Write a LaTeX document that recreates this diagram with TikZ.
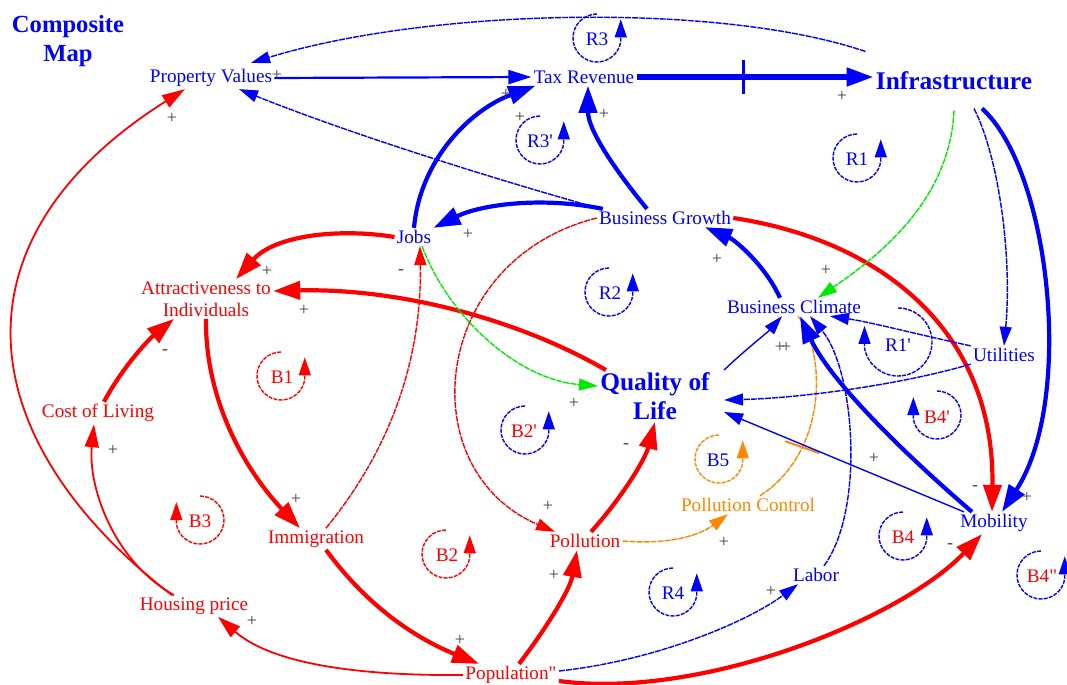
\documentclass[tikz,border=0pt]{standalone}
\usepackage{fontspec}
\setmainfont{Liberation Serif}
\usetikzlibrary{arrows.meta}

\definecolor{signgray}{RGB}{64,64,64}
\definecolor{ctrlorange}{RGB}{255,136,0}
\definecolor{linkgreen}{RGB}{0,235,0}

\begin{document}
\begin{tikzpicture}[
        x = 0.5pt, y = -0.5pt,
        var/.style = {inner sep = 1pt, align = center, font = \fontsize{9.6}{11}\selectfont},
        keyvar/.style = {inner sep = 1pt, align = center, font = \fontsize{12.7}{14.5}\selectfont\bfseries},
        sign/.style = {inner sep = 0pt, text = signgray, font = \fontsize{9}{9}\selectfont},
        loopname/.style = {inner sep = 0pt, font = \fontsize{9.6}{11}\selectfont},
        loopmark/.style = {line width = 0.7pt, dash pattern = on 2pt off 0.6pt, -{Triangle[length = 9pt, width = 6pt]}},
        thinlink/.style = {line width = 0.7pt, dash pattern = on 3pt off 0.5pt, -{Triangle[length = 9.5pt, width = 6pt]}},
        plainlink/.style = {line width = 0.7pt, -{Triangle[length = 9.5pt, width = 6pt]}},
        midlink/.style = {line width = 1.1pt, -{Triangle[length = 11.5pt, width = 7pt]}},
        thicklink/.style = {line width = 2.1pt, -{Triangle[length = 13.5pt, width = 9pt]}}
    ]

        % Fix the size of the picture.
        \useasboundingbox (0, 0) rectangle (1067, 685);

        % Title of the map.
        \node[keyvar, text = blue, font = \fontsize{12.3}{14.5}\selectfont\bfseries] (title) at (68, 41) {Composite\\Map};

        % Variables on the blue side.
        \node[var, text = blue] (propval) at (211, 78) {Property Values};
        \node[var, text = blue] (taxrev) at (584, 77) {Tax Revenue};
        \node[keyvar, text = blue] (infra) at (954, 81) {Infrastructure};
        \node[var, text = blue] (bgrowth) at (665, 218) {Business Growth};
        \node[var, text = blue] (jobs) at (414, 237) {Jobs};
        \node[var, text = blue] (bclimate) at (794, 307) {Business Climate};
        \node[var, text = blue] (utilities) at (1004, 355) {Utilities};
        \node[keyvar, text = blue] (qol) at (655, 396) {Quality of\\Life};
        \node[var, text = blue] (mobility) at (994, 523) {Mobility};
        \node[var, text = blue] (labor) at (816, 575) {Labor};

        % Variables on the red side.
        \node[var, text = red] (attract) at (206, 299) {Attractiveness to\\Individuals};
        \node[var, text = red] (cost) at (98, 413) {Cost of Living};
        \node[var, text = red] (immig) at (316, 539) {Immigration};
        \node[var, text = red] (pollution) at (585, 541) {Pollution};
        \node[var, text = red] (housing) at (194, 606) {Housing price};
        \node[var, text = red] (population) at (511, 675) {Population\textquotedbl};
        \node[var, text = ctrlorange] (pcontrol) at (748, 505) {Pollution Control};

        % Links around tax revenue.
        \draw[thinlink, blue] ([xshift = -4pt, yshift = 9pt]infra.north west) .. controls (720, 2) and (430, 8) .. ([xshift = 20pt, yshift = 2pt]propval.north);
        \draw[midlink, blue] (propval.east) to (taxrev.west);
        \draw[thicklink, blue, line width = 2.6pt] (taxrev.east) to coordinate[pos = 0.45] (taxdelay) (taxrev.east -| infra.west);
        \draw[blue, line width = 1.6pt] ([yshift = 8.5pt]taxdelay) to ([yshift = -8.5pt]taxdelay);
        \draw[thinlink, blue] ([xshift = 2pt]bgrowth.north west) .. controls (480, 175) and (340, 130) .. ([xshift = 14pt]propval.south);
        \draw[thicklink, blue] ([xshift = 3pt]bgrowth.north west) .. controls (540, 196) and (480, 205) .. (jobs.north east);
        \draw[thicklink, blue] ([xshift = -9pt]bgrowth.north) .. controls (615, 170) and (588, 130) .. ([xshift = 2pt]taxrev.south);
        \draw[thicklink, blue] (jobs.north) .. controls (420, 160) and (470, 110) .. ([xshift = 2pt]taxrev.south west);

        % Links of the red side.
        \draw[thicklink, red] (jobs.west) .. controls (340, 228) and (275, 235) .. ([xshift = 15pt]attract.north);
        \draw[thicklink, red] ([xshift = 4pt]qol.north west) .. controls (520, 320) and (400, 288) .. ([yshift = 4pt]attract.east);
        \draw[thicklink, red] (attract.south) .. controls (205, 400) and (245, 470) .. ([xshift = -8pt]immig.north);
        \draw[thicklink, red] ([xshift = 3pt]cost.north) .. controls (122, 368) and (148, 340) .. ([xshift = -16pt]attract.south);
        \draw[midlink, red, line width = 0.9pt] ([xshift = -10pt]housing.north) .. controls (112, 560) and (88, 485) .. ([xshift = -2pt]cost.south);
        \draw[midlink, red, line width = 0.9pt] ([xshift = -11pt]housing.north) .. controls (-30, 440) and (-54, 240) .. ([xshift = -13pt]propval.south);
        \draw[thinlink, red] ([xshift = 5pt]immig.north) .. controls (390, 450) and (422, 360) .. ([xshift = 3pt]jobs.south);
        \draw[thicklink, red] ([xshift = 5pt]immig.south) .. controls (370, 610) and (420, 640) .. ([xshift = -16pt]population.north);
        \draw[midlink, red, line width = 0.9pt] (population.west) .. controls (350, 676) and (270, 662) .. ([xshift = 12pt]housing.south);
        \draw[thicklink, red] ([xshift = 4pt]population.north) .. controls (545, 630) and (570, 590) .. ([xshift = -4pt]pollution.south);
        \draw[thinlink, red] (bgrowth.west) .. controls (430, 260) and (410, 470) .. ([xshift = -15pt]pollution.north);
        \draw[thicklink, red] ([xshift = 3pt]pollution.north) .. controls (620, 500) and (645, 460) .. (qol.south);
        \draw[thicklink, red] (bgrowth.east) .. controls (880, 240) and (995, 330) .. ([xshift = -1pt]mobility.north);
        \draw[thicklink, red] ([yshift = -3pt]population.east) .. controls (700, 700) and (900, 620) .. ([xshift = -6pt]mobility.south);

        % Pollution control and its delay.
        \draw[thinlink, ctrlorange] (pollution.east) .. controls (670, 545) and (700, 535) .. ([xshift = -10pt]pcontrol.south);
        \draw[thinlink, ctrlorange, -] ([xshift = 6pt]pcontrol.north) .. controls (830, 450) and (825, 350) .. ([xshift = 2pt]bclimate.south) coordinate[pos = 0.28] (pcdelay);
        \draw[ctrlorange, line width = 1pt] ([shift = {(-17, -6)}]pcdelay) to ([shift = {(17, 6)}]pcdelay);

        % Green links.
        \draw[thinlink, linkgreen] ([yshift = -9pt]infra.south) .. controls (950, 200) and (880, 255) .. ([xshift = 12pt]bclimate.north);
        \draw[thinlink, linkgreen] ([xshift = 4pt]jobs.south) .. controls (450, 320) and (520, 380) .. ([yshift = 5pt]qol.west);

        % Links of the blue side.
        \draw[thinlink, blue] ([xshift = 10pt, yshift = -8pt]infra.south) .. controls (1000, 160) and (1012, 260) .. (utilities.north);
        \draw[thicklink, blue] ([xshift = 14pt, yshift = -8pt]infra.south) .. controls (1050, 170) and (1075, 400) .. ([xshift = 4pt]mobility.north);
        \draw[thicklink, blue] ([xshift = -7pt]bclimate.north) .. controls (765, 265) and (735, 240) .. ([xshift = 20pt]bgrowth.south);
        \draw[plainlink, blue] ([xshift = 6pt]qol.north east) .. controls (745, 350) and (768, 332) .. ([xshift = -6pt]bclimate.south);
        \draw[thinlink, blue] (utilities.north west) .. controls (920, 335) and (870, 322) .. ([xshift = 18pt]bclimate.south);
        \draw[thinlink, blue] (utilities.south west) .. controls (900, 385) and (800, 398) .. ([xshift = 6pt, yshift = -2pt]qol.east);
        \draw[plainlink, blue] ([xshift = 3pt]mobility.north west) to ([xshift = 6pt, yshift = -8pt]qol.east);
        \draw[thicklink, blue] ([xshift = 7pt]mobility.north west) .. controls (900, 450) and (830, 380) .. ([xshift = 3pt]bclimate.south);
        \draw[thinlink, blue] ([xshift = 4pt]labor.north) .. controls (865, 510) and (855, 370) .. ([xshift = 8pt]bclimate.south);
        \draw[thinlink, blue] ([yshift = 2pt]population.east) .. controls (660, 660) and (750, 620) .. ([xshift = -9pt]labor.south);

        % Loop markers, counterclockwise.
        \draw[loopmark, blue] (597, 14) arc[start angle = -90, end angle = -352, radius = 24] to ++(0, -22);
        \node[loopname, text = blue] (r3) at (597, 39) {R3};
        \draw[loopmark, blue] (540, 116) arc[start angle = -90, end angle = -352, radius = 24] to ++(0, -22);
        \node[loopname, text = blue] (r3b) at (540, 141) {R3\textquotesingle};
        \draw[loopmark, blue] (857, 134) arc[start angle = -90, end angle = -352, radius = 24] to ++(0, -22);
        \node[loopname, text = blue] (r1) at (857, 159) {R1};
        \draw[loopmark, blue] (609, 268) arc[start angle = -90, end angle = -352, radius = 24] to ++(0, -22);
        \node[loopname, text = blue] (r2) at (610, 293) {R2};
        \draw[loopmark, red] (281, 352) arc[start angle = -90, end angle = -352, radius = 24] to ++(0, -22);
        \node[loopname, text = red] (b1) at (282, 377) {B1};
        \draw[loopmark, blue] (525, 406) arc[start angle = -90, end angle = -352, radius = 24] to ++(0, -22);
        \node[loopname, text = red] (b2b) at (524, 431) {B2\textquotesingle};
        \draw[loopmark, ctrlorange] (719, 435) arc[start angle = -90, end angle = -352, radius = 24] to ++(0, -22);
        \node[loopname, text = blue] (b5) at (718, 460) {B5};
        \draw[loopmark, red] (446, 530) arc[start angle = -90, end angle = -352, radius = 24] to ++(0, -22);
        \node[loopname, text = red] (b2) at (447, 555) {B2};
        \draw[loopmark, blue] (673, 568) arc[start angle = -90, end angle = -352, radius = 24] to ++(0, -22);
        \node[loopname, text = blue] (r4) at (673, 593) {R4};
        \draw[loopmark, blue] (903, 512) arc[start angle = -90, end angle = -352, radius = 24] to ++(0, -22);
        \node[loopname, text = red] (b4) at (903, 537) {B4};
        \draw[loopmark, blue] (1041, 551) arc[start angle = -90, end angle = -352, radius = 24] to ++(0, -22);
        \node[loopname, text = red] (b4c) at (1042, 576) {B4\textquotedbl};

        % Loop markers, clockwise.
        \draw[loopmark, blue] (898, 308) arc[start angle = -90, end angle = 170, radius = 34] to ++(0, -22);
        \node[loopname, text = blue] (r1b) at (898, 345) {R1\textquotesingle};
        \draw[loopmark, blue] (937, 391) arc[start angle = -90, end angle = 170, radius = 24] to ++(0, -22);
        \node[loopname, text = red] (b4b) at (937, 417) {B4\textquotesingle};
        \draw[loopmark, red] (200, 496) arc[start angle = -90, end angle = 170, radius = 24] to ++(0, -22);
        \node[loopname, text = red] (b3) at (200, 521) {B3};

        % Polarity signs.
        \node[sign] (p1) at (277, 75) {+};
        \node[sign] (p2) at (172, 118) {+};
        \node[sign] (p3) at (842, 96) {+};
        \node[sign] (p4) at (604, 114) {+};
        \node[sign] (p5) at (506, 94) {+};
        \node[sign] (p6) at (520, 117) {+};
        \node[sign] (p7) at (468, 234) {+};
        \node[sign] (p8) at (717, 259) {+};
        \node[sign] (p9) at (826, 270) {+};
        \node[sign] (p10) at (304, 310) {+};
        \node[sign] (p11) at (267, 271) {+};
        \node[sign] (p12) at (113, 450) {+};
        \node[sign] (p13) at (296, 499) {+};
        \node[sign] (p14) at (252, 621) {+};
        \node[sign] (p15) at (460, 640) {+};
        \node[sign] (p16) at (554, 575) {+};
        \node[sign] (p17) at (548, 506) {+};
        \node[sign] (p18) at (574, 403) {+};
        \node[sign] (p19) at (724, 542) {+};
        \node[sign] (p20) at (771, 591) {+};
        \node[sign] (p21) at (874, 458) {+};
        \node[sign] (p22) at (1027, 497) {+};
        \node[sign] (pp) at (783, 347) {+\kern-2pt+};
        \node[sign] (m1) at (165, 352) {-};
        \node[sign] (m2) at (401, 272) {-};
        \node[sign] (m3) at (626, 446) {-};
        \node[sign] (m4) at (950, 546) {-};
        \node[sign] (m5) at (975, 488) {-};
    \end{tikzpicture}
\end{document}
